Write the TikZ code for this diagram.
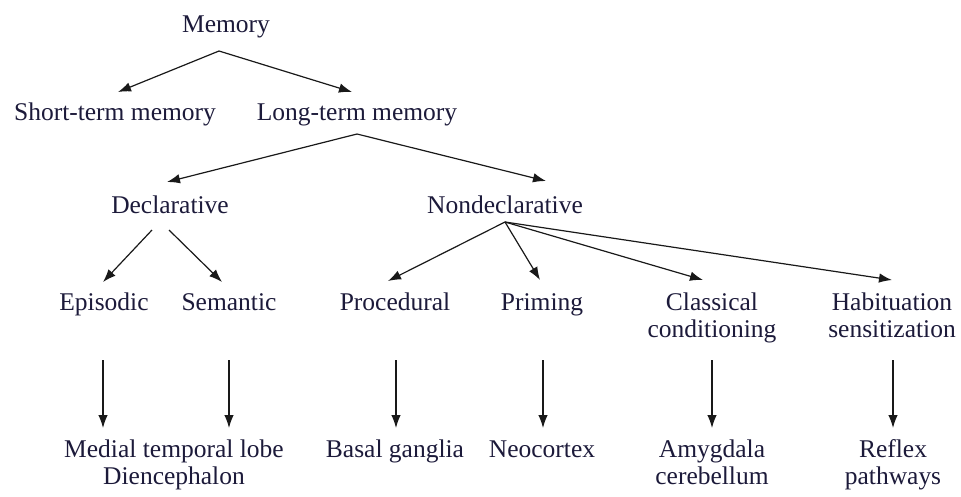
\documentclass[tikz,border=0pt]{standalone}
\usepackage{fontspec}
\setmainfont{Liberation Serif}
\usetikzlibrary{arrows.meta}
\definecolor{ink}{HTML}{1C1A3A}
\begin{document}
\begin{tikzpicture}[x=1pt,y=-1pt,
  lbl/.style={anchor=north, inner sep=0pt, align=center, text=ink,
     font=\fontsize{25.5}{27.5}\selectfont},
  arr/.style={-{Latex[length=13pt,width=9.5pt]}, line width=1.2pt, draw=black!90}]
\useasboundingbox (0,0) rectangle (961,496);
% level 0-2
\node[lbl] (mem) at (226,12.75) {\strut Memory};
\node[lbl] (stm) at (115,100.75) {\strut Short-term memory};
\node[lbl] (ltm) at (357,100.75) {\strut Long-term memory};
\node[lbl] (dec) at (170,193.75) {\strut Declarative};
\node[lbl] (nd)  at (505,193.75) {\strut Nondeclarative};
% level 3
\node[lbl] (epi) at (104,290.75) {\strut Episodic};
\node[lbl] (sem) at (229,290.75) {\strut Semantic};
\node[lbl] (pro) at (395,290.75) {\strut Procedural};
\node[lbl] (pri) at (542,290.75) {\strut Priming};
\node[lbl] (cla) at (712,290.75) {\strut Classical\\conditioning};
\node[lbl] (hab) at (892,290.75) {\strut Habituation\\sensitization};
% level 4
\node[lbl] (mtl) at (174,437.75) {\strut Medial temporal lobe\\Diencephalon};
\node[lbl] (bas) at (395,437.75) {\strut Basal ganglia};
\node[lbl] (neo) at (542,437.75) {\strut Neocortex};
\node[lbl] (amy) at (712,437.75) {\strut Amygdala\\cerebellum};
\node[lbl] (ref) at (893,437.75) {\strut Reflex\\pathways};
% connectors
\draw[arr] ([shift={(-7,38.25)}]mem.north) -- ([shift={(3,-8.75)}]stm.north);
\draw[arr] ([shift={(-7,38.25)}]mem.north) -- ([shift={(-5,-8.75)}]ltm.north);
\draw[arr] ([shift={(0,33.25)}]ltm.north) -- ([shift={(-3,-11.75)}]dec.north);
\draw[arr] ([shift={(0,33.25)}]ltm.north) -- ([shift={(41,-12.75)}]nd.north);
\draw[arr] ([shift={(-18,36.25)}]dec.north) -- ([shift={(-1,-8.75)}]epi.north);
\draw[arr] ([shift={(-1,36.25)}]dec.north) -- ([shift={(-7,-8.75)}]sem.north);
\draw[arr] ([shift={(0,28.25)}]nd.north) -- ([shift={(-7,-9.75)}]pro.north);
\draw[arr] ([shift={(0,28.25)}]nd.north) -- ([shift={(-2,-10.75)}]pri.north);
\draw[arr] ([shift={(0,28.25)}]nd.north) -- ([shift={(-9,-10.75)}]cla.north);
\draw[arr] ([shift={(0,28.25)}]nd.north) -- ([shift={(0,-10.75)}]hab.north);
\draw[arr] ([shift={(-1,69.25)}]epi.north) -- ([shift={(-71,-9.75)}]mtl.north);
\draw[arr] ([shift={(0,69.25)}]sem.north) -- ([shift={(55,-9.75)}]mtl.north);
\draw[arr] ([shift={(1,69.25)}]pro.north) -- ([shift={(1,-9.75)}]bas.north);
\draw[arr] ([shift={(1,69.25)}]pri.north) -- ([shift={(1,-9.75)}]neo.north);
\draw[arr] ([shift={(0,69.25)}]cla.north) -- ([shift={(0,-9.75)}]amy.north);
\draw[arr] ([shift={(1,69.25)}]hab.north) -- ([shift={(0,-9.75)}]ref.north);
\end{tikzpicture}
\end{document}
